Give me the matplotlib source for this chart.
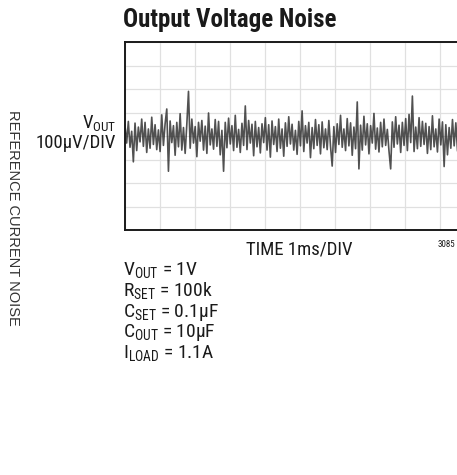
import numpy as np
import matplotlib
matplotlib.use("Agg")
import matplotlib.pyplot as plt
from matplotlib import font_manager

# pick a condensed face if one is around
nomes = {f.name for f in font_manager.fontManager.ttflist}
estreita = next((n for n in ["Roboto Condensed", "Liberation Sans Narrow", "Liberation Sans"] if n in nomes), "DejaVu Sans")

plt.rcParams['font.family'] = [estreita, 'DejaVu Sans']
plt.rcParams['mathtext.fontset'] = 'custom'
plt.rcParams['mathtext.rm'] = estreita
plt.rcParams['mathtext.it'] = estreita

ruido_uv = [
    45, -30, 62, -48, 20, -110, 55, -62, 38, -25, 72, -44, 58, -70, 30, -52, 80, -36, 48, -58,
    26, -66, 90, -40, 52, 115, -150, 64, -28, 44, -82, 58, -46, 95, -60, 36, -74, 50, 190, -52,
    72, -30, 40, -88, 58, -22, 66, -60, 42, -74, 98, -38, 30, -56, 70, -44, 62, -80, 24, -150,
    58, -50, 76, -34, 44, -62, 88, -48, 28, -70, 54, -40, 128, -58, 66, -30, 50, -84, 62, -46,
    36, -72, 52, -28, 78, -60, 48, -90, 64, -36, 40, -66, 72, -52, 30, -86, 56, -44, 82, -34,
    50, -60, 24, -78, 62, -42, 107, -66, 44, -30, 58, -92, 36, -54, 70, -40, 48, -76, 60, -50,
    30, -58, 66, -44, -128, 40, -70, 52, -36, 88, -48, 30, -62, 74, -42, 56, -82, 38, -54, 145,
    -140, 46, -60, 84, -38, 52, -76, 44, -30, 96, -56, 34, -68, 58, -46, 72, -40, 28, -64, -140,
    60, -48, 82, -34, 46, -70, 58, -40, 74, -62, 92, -28, 170, -66, 38, -54, 78, -44, 62, -36,
    54, -74, 40, -58, 86, -46, 30, -68, 72, -38, 60, -130, 48, -80, 36, -52, 70, -42, 56, -62,
]
tempo_div = np.linspace(0, 9.5, len(ruido_uv))  # amostras ao longo do eixo (div)

condicoes = [r"V$_{\mathrm{OUT}}$ = 1V",
             r"R$_{\mathrm{SET}}$ = 100k",
             r"C$_{\mathrm{SET}}$ = 0.1µF",
             r"C$_{\mathrm{OUT}}$ = 10µF",
             r"I$_{\mathrm{LOAD}}$ = 1.1A"]

W, H = 457, 475
fig = plt.figure(figsize=(W / 100, H / 100), dpi=100)

def px(x, y):
    return x / W, 1 - y / H

# eixo do osciloscopio (passa da borda direita, como no original)
ax = fig.add_axes([125 / W, 1 - 230 / H, 350 / W, 188 / H])
ax.set_xlim(0, 10)
ax.set_ylim(-400, 400)
ax.set_xticks(np.arange(0, 11, 1))
ax.set_yticks(np.arange(-400, 401, 100))
ax.tick_params(length=0, labelbottom=False, labelleft=False)
ax.grid(True, color='#e0e0e0', linewidth=0.9)
for s in ax.spines.values():
    s.set_linewidth(1.4)
    s.set_color('#1a1a1a')

ax.plot(tempo_div, ruido_uv, color='#262626', linewidth=1.2, alpha=0.8)

# textos
fig.text(*px(123, 20), "Output Voltage Noise", fontsize=18, fontweight='bold',
         ha='left', va='center', color='#1a1a1a')
fig.text(*px(13, 218), "REFERENCE CURRENT NOISE", family=['Liberation Sans', 'DejaVu Sans'],
         fontsize=10.5, rotation=270, ha='center', va='center', color='#333333')
fig.text(*px(116, 128), r"V$_{\mathrm{OUT}}$", fontsize=13.5, ha='right', va='baseline', color='#1a1a1a')
fig.text(*px(116, 148), "100µV/DIV", fontsize=13.5, ha='right', va='baseline', color='#1a1a1a')
fig.text(*px(299, 254), "TIME 1ms/DIV", fontsize=13.5, ha='center', va='baseline', color='#1a1a1a')
fig.text(*px(455, 247), "3085", fontsize=6.5, ha='right', va='baseline', color='#1a1a1a')

y0 = 275
for i, linha in enumerate(condicoes):
    fig.text(*px(123, y0 + i * 20.8), linha, fontsize=14, ha='left', va='baseline', color='#1a1a1a')

fig.savefig("out.png", dpi=100)
